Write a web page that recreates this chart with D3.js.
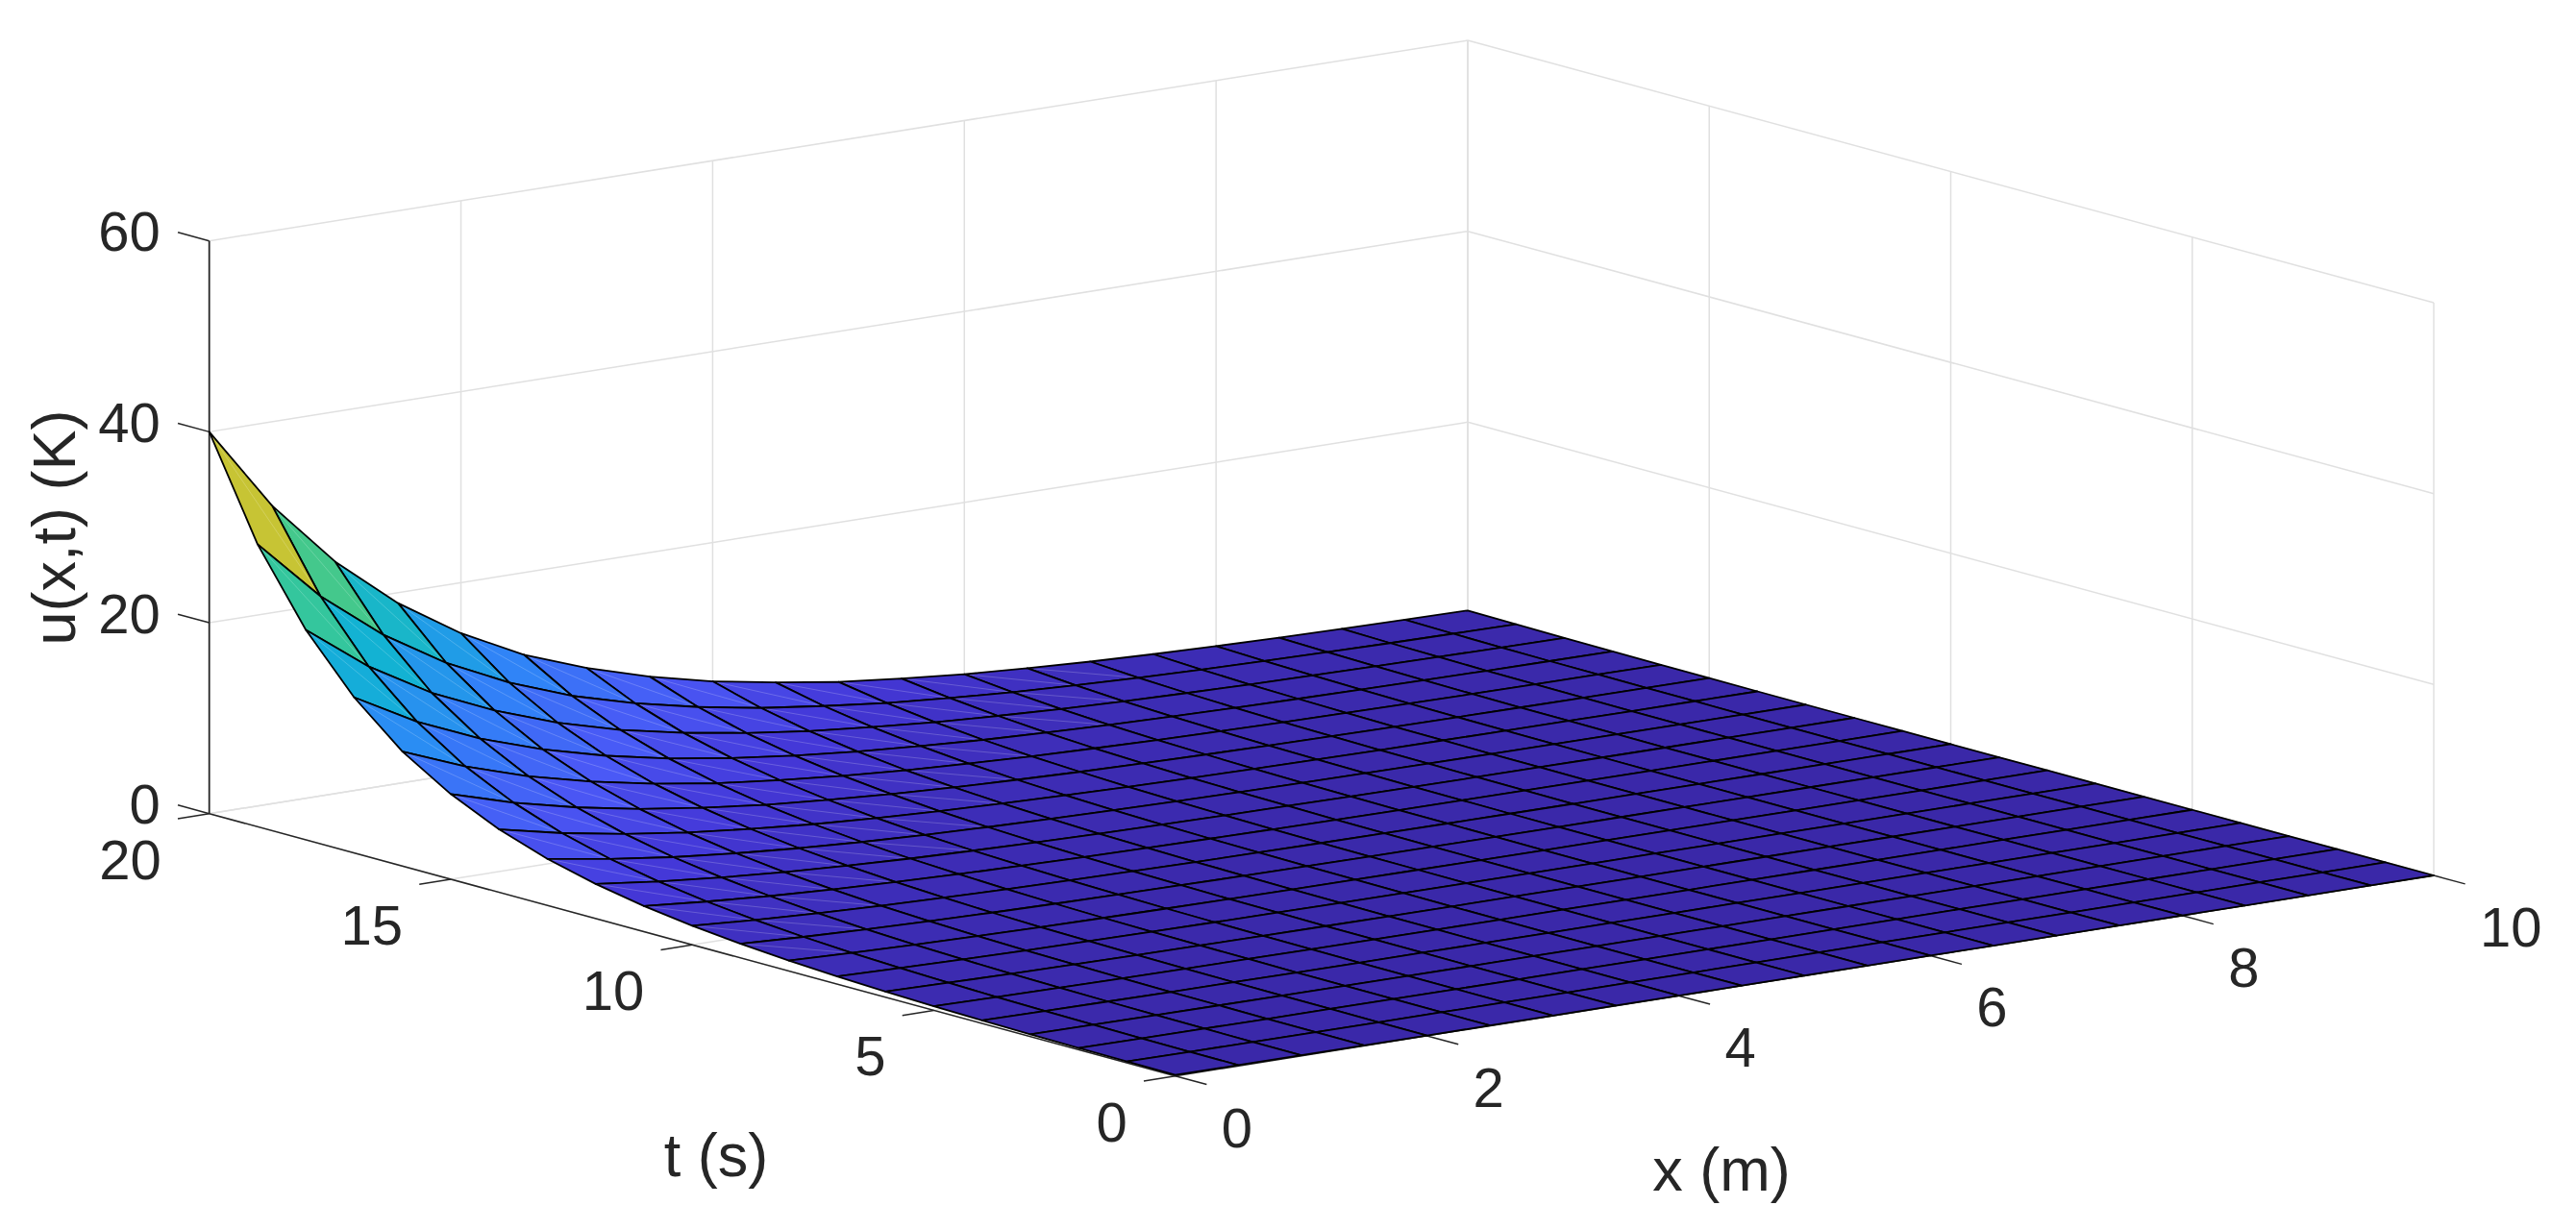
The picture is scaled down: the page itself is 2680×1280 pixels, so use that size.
<!DOCTYPE html>
<html>
<head>
<meta charset="utf-8">
<title>u(x,t)</title>
<script src="https://cdn.jsdelivr.net/npm/d3@7"></script>
<style>
  html, body { margin: 0; padding: 0; background: #fff; }
  text { font-family: "Liberation Sans", Arial, sans-serif; fill: #262626; }
</style>
</head>
<body>
<div id="chart"></div>
<script>
var xValues = [0,0.5,1,1.5,2,2.5,3,3.5,4,4.5,5,5.5,6,6.5,7,7.5,8,8.5,9,9.5,10];
var tValues = [0,1,2,3,4,5,6,7,8,9,10,11,12,13,14,15,16,17,18,19,20];

var xTicks = [0,2,4,6,8,10];
var tTicks = [0,5,10,15,20];
var zTicks = [0,20,40,60];

// u(x,t), one row per t, one column per x
var u00 = [.10,.08,.06,.05,.04,.03,.02,.02,.01,.01,.01,.01,.01,0,0,0,0,0,0,0,0];
var u01 = [.14,.11,.08,.06,.05,.04,.03,.02,.02,.01,.01,.01,.01,.01,0,0,0,0,0,0,0];
var u02 = [.18,.14,.11,.08,.07,.05,.04,.03,.02,.02,.01,.01,.01,.01,.01,0,0,0,0,0,0];
var u03 = [.24,.19,.15,.12,.09,.07,.05,.04,.03,.03,.02,.02,.01,.01,.01,.01,0,0,0,0,0];
var u04 = [.33,.26,.20,.15,.12,.09,.07,.06,.04,.03,.03,.02,.02,.01,.01,.01,.01,0,0,0,0];
var u05 = [.44,.35,.27,.21,.16,.13,.10,.08,.06,.05,.04,.03,.02,.02,.01,.01,.01,.01,.01,0,0];
var u06 = [.60,.47,.36,.28,.22,.17,.13,.10,.08,.06,.05,.04,.03,.02,.02,.01,.01,.01,.01,.01,0];
var u07 = [.81,.63,.49,.38,.30,.23,.18,.14,.11,.09,.07,.05,.04,.03,.02,.02,.01,.01,.01,.01,.01];
var u08 = [1.09,.85,.66,.52,.40,.31,.24,.19,.15,.12,.09,.07,.05,.04,.03,.03,.02,.02,.01,.01,.01];
var u09 = [1.48,1.15,.90,.70,.54,.42,.33,.26,.20,.16,.12,.10,.07,.06,.05,.04,.03,.02,.02,.01,.01];
var u10 = [1.99,1.55,1.21,.94,.73,.57,.45,.35,.27,.21,.16,.13,.10,.08,.06,.05,.04,.03,.02,.02,.01];
var u11 = [2.69,2.10,1.63,1.27,.99,.77,.60,.47,.37,.29,.22,.17,.13,.11,.08,.06,.05,.04,.03,.02,.02];
var u12 = [3.63,2.83,2.20,1.71,1.33,1.03,.81,.63,.49,.39,.30,.24,.18,.14,.11,.09,.07,.05,.04,.03,.02];
var u13 = [4.88,3.81,2.96,2.31,1.79,1.39,1.09,.85,.66,.52,.40,.32,.24,.19,.15,.12,.09,.07,.05,.04,.03];
var u14 = [6.6,5.15,4.01,3.12,2.43,1.88,1.48,1.16,.90,.71,.54,.43,.33,.26,.20,.16,.12,.10,.07,.06,.04];
var u15 = [8.92,6.96,5.42,4.21,3.28,2.54,2.0,1.56,1.22,.96,.74,.58,.45,.35,.27,.21,.17,.13,.10,.08,.06];
var u16 = [12.0,9.39,7.31,5.69,4.42,3.43,2.69,2.11,1.64,1.29,.99,.78,.60,.47,.37,.29,.22,.17,.14,.11,.08];
var u17 = [16.3,12.7,9.89,7.69,5.98,4.64,3.64,2.85,2.22,1.75,1.34,1.06,.81,.64,.50,.39,.30,.24,.18,.14,.11];
var u18 = [22.0,17.1,13.3,10.4,8.07,6.26,4.91,3.84,2.99,2.36,1.81,1.43,1.10,.86,.67,.52,.41,.32,.25,.19,.15];
var u19 = [29.6,23.1,18.0,14.0,10.9,8.45,6.63,5.19,4.04,3.19,2.45,1.93,1.48,1.16,.90,.70,.55,.43,.33,.26,.20];
var u20 = [40,31.2,24.3,18.9,14.7,11.4,8.95,7.0,5.45,4.3,3.3,2.6,2.0,1.57,1.22,.95,.74,.58,.45,.35,.27];
var uRows = [u00,u01,u02,u03,u04,u05,u06,u07,u08,u09,u10,u11,u12,u13,u14,u15,u16,u17,u18,u19,u20];

var colorStops = [0,0.0625,0.125,0.25,0.375,0.5,0.625,0.75,0.875,1];
var parula = ['#3a28a8','#4438d8','#4a58f6','#2e87f7','#12b1d6','#37c897','#b4c432','#fec338','#f6d92a','#f9fb0e'];

var width = 2680, height = 1280;
var fontTick = 58, fontTitle = 63;
var axisColor = '#262626', gridColor = '#e0e0e0';

var svg = d3.select('#chart')
    .append('svg')
    .attr('width', width)
    .attr('height', height)
    .style('display', 'block');

// orthographic box: offset of each data axis from the front corner (x=0,t=0,z=0)
var originX = 1222.7, originY = 1119.7;
var xToPx = d3.scaleLinear().domain([0,10]).range([0,1309.3]);
var xToPy = d3.scaleLinear().domain([0,10]).range([0,-208.7]);
var tToPx = d3.scaleLinear().domain([0,20]).range([0,-1005]);
var tToPy = d3.scaleLinear().domain([0,20]).range([0,-273]);
var zToPy = d3.scaleLinear().domain([0,60]).range([0,-596]);

var colorScale = d3.scaleLinear()
    .domain(colorStops.map((s)=>s*45))
    .range(parula)
    .interpolate(d3.interpolateRgb)
    .clamp(true);

function project(x,t,z){
    return [originX + xToPx(x) + tToPx(t), originY + xToPy(x) + tToPy(t) + zToPy(z)];
}

var line = d3.line();

function seg(g,a,b,color,w){
    return g.append('path')
        .attr('d', line([a,b]))
        .attr('fill','none')
        .attr('stroke',color)
        .attr('stroke-width',w);
}

// grid on the two back walls and the floor
var grid = svg.append('g');
xTicks.forEach((x)=>{
    if(x>0) seg(grid,project(x,20,0),project(x,20,60),gridColor,1.5);
    seg(grid,project(x,0,0),project(x,20,0),gridColor,1.5);
});
tTicks.forEach((t)=>{
    seg(grid,project(10,t,0),project(10,t,60),gridColor,1.5);
    seg(grid,project(0,t,0),project(10,t,0),gridColor,1.5);
});
zTicks.forEach((z)=>{
    seg(grid,project(0,20,z),project(10,20,z),gridColor,1.5);
    seg(grid,project(10,20,z),project(10,0,z),gridColor,1.5);
});

// axes and tick marks
var axes = svg.append('g');
seg(axes,project(0,20,0),project(0,20,60),axisColor,1.8);
seg(axes,project(0,20,0),project(0,0,0),axisColor,1.5);
seg(axes,project(0,0,0),project(10,0,0),axisColor,1.5);
zTicks.forEach((z)=>{
    seg(axes,project(0,20,z),project(0,20.65,z),axisColor,1.5);
});
tTicks.forEach((t)=>{
    seg(axes,project(0,t,0),project(-0.25,t,0),axisColor,1.5);
});
xTicks.forEach((x)=>{
    seg(axes,project(x,0,0),project(x,-0.65,0),axisColor,1.5);
});

// surface, painted from the back corner to the front one
var surface = svg.append('g');
for(var i=tValues.length-2; i>=0; i--){
    for(var j=xValues.length-2; j>=0; j--){
        var p00 = project(xValues[j],tValues[i],uRows[i][j]);
        var p01 = project(xValues[j+1],tValues[i],uRows[i][j+1]);
        var p11 = project(xValues[j+1],tValues[i+1],uRows[i+1][j+1]);
        var p10 = project(xValues[j],tValues[i+1],uRows[i+1][j]);
        surface.append('path')
            .attr('d', line([p00,p01,p11,p10]) + 'Z')
            .attr('fill',colorScale(uRows[i][j]));
        // faint fold where a curved cell splits in two triangles
        if(uRows[i][j] >= 1){
            seg(surface,p01,p10,'#fff',1).attr('stroke-opacity',0.2);
        }
        surface.append('path')
            .attr('d', line([p00,p01,p11,p10]) + 'Z')
            .attr('fill','none')
            .attr('stroke','#000')
            .attr('stroke-width',1.8)
            .attr('stroke-linejoin','round');
    }
}

// tick labels
var labels = svg.append('g').style('font-size', fontTick + 'px');
labels.selectAll('.zlabel').data(zTicks).enter().append('text')
    .attr('class','zlabel')
    .attr('x',(d)=>project(0,20,d)[0]-51)
    .attr('y',(d)=>project(0,20,d)[1]+10.5)
    .attr('text-anchor','end')
    .text((d)=>d);
labels.selectAll('.tlabel').data(tTicks).enter().append('text')
    .attr('class','tlabel')
    .attr('x',(d)=>project(0,d,0)[0]-50)
    .attr('y',(d)=>project(0,d,0)[1]+68)
    .attr('text-anchor','end')
    .text((d)=>d);
labels.selectAll('.xlabel').data(xTicks).enter().append('text')
    .attr('class','xlabel')
    .attr('x',(d)=>project(d,0,0)[0]+48)
    .attr('y',(d)=>project(d,0,0)[1]+74)
    .attr('text-anchor','start')
    .text((d)=>d);

// axis titles
svg.append('text')
    .attr('x',1791).attr('y',1239)
    .attr('text-anchor','middle')
    .style('font-size',fontTitle+'px')
    .text('x (m)');
svg.append('text')
    .attr('x',745).attr('y',1224)
    .attr('text-anchor','middle')
    .style('font-size',fontTitle+'px')
    .text('t (s)');
svg.append('text')
    .attr('transform','translate(78,549) rotate(-90)')
    .attr('text-anchor','middle')
    .style('font-size',fontTitle+'px')
    .text('u(x,t) (K)');
</script>
</body>
</html>
